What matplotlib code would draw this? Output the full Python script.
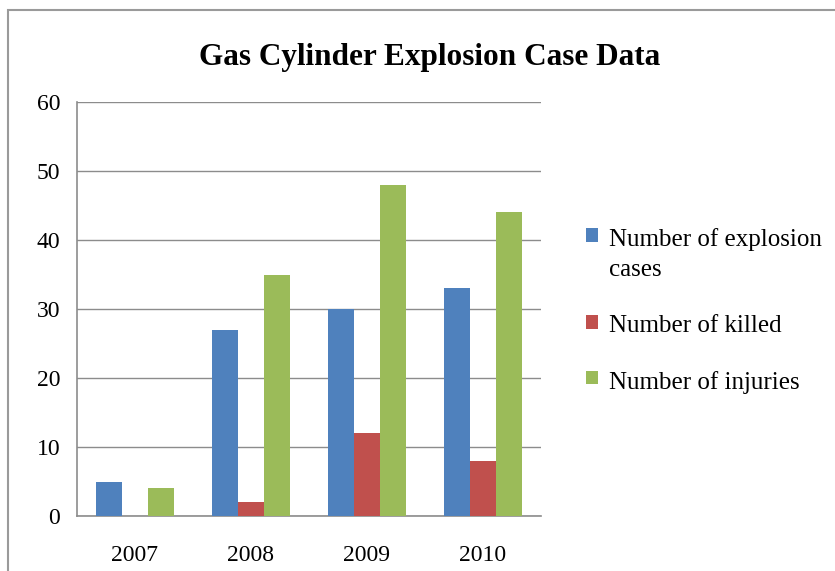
import numpy as np
import matplotlib
matplotlib.use("Agg")
import matplotlib.pyplot as plt
from matplotlib.patches import Rectangle

plt.rcParams["font.family"] = ["Liberation Serif", "DejaVu Serif"]

years = ["2007", "2008", "2009", "2010"]
series_names = ["Number of explosion\ncases", "Number of killed", "Number of injuries"]
explosion_cases = [5, 27, 30, 33]
killed = [0, 2, 12, 8]
injuries = [4, 35, 48, 44]
colors = ["#4F81BD", "#C0504D", "#9BBB59"]

fig = plt.figure(figsize=(8.35, 5.71), dpi=100)
ax = fig.add_axes([77 / 835, 1 - 516 / 571, (541 - 77) / 835, (516 - 102) / 571])

x = np.arange(len(years))
w = 0.224
for i, (vals, name) in enumerate(zip([explosion_cases, killed, injuries], series_names)):
    ax.bar(x + (i - 1) * w, vals, w, color=colors[i], label=name, zorder=3)

ax.set_xlim(-0.5, len(years) - 0.5)
ax.set_ylim(0, 60)
ax.set_yticks(range(0, 61, 10))
ax.set_xticks(x)
ax.set_xticklabels(years)
ax.tick_params(axis="both", length=0, labelsize=17)
ax.tick_params(axis="x", pad=21)
ax.tick_params(axis="y", pad=12)
ax.grid(axis="y", color="#8c8c8c", linewidth=1, zorder=0)
for s in ["top", "right"]:
    ax.spines[s].set_visible(False)
for s in ["left", "bottom"]:
    ax.spines[s].set_color("#8c8c8c")
    ax.spines[s].set_linewidth(1.2)

fig.suptitle("Gas Cylinder Explosion Case Data", x=430 / 835, y=1 - 57 / 571,
             fontsize=22.5, fontweight="bold", va="center")

leg = ax.legend(loc="center left", bbox_to_anchor=(576 / 835, 1 - 311 / 571),
                bbox_transform=fig.transFigure, frameon=False, fontsize=18,
                borderaxespad=0, handlelength=0.47, handleheight=0.47,
                handletextpad=0.45, labelspacing=1.35)
for t in leg.get_texts():
    t.set_linespacing(1.45)
# put the colour box next to the first line of a wrapped label, as in Excel
for col in leg._legend_handle_box.get_children():
    for row in col.get_children():
        row.align = "top"

# chart frame
fig.patches.append(Rectangle((8 / 835, -0.1), 1.2, 1 - 10 / 571 + 0.1,
                             transform=fig.transFigure, fill=False,
                             edgecolor="#9a9a9a", linewidth=1.5))

plt.savefig("out.png", dpi=100)
